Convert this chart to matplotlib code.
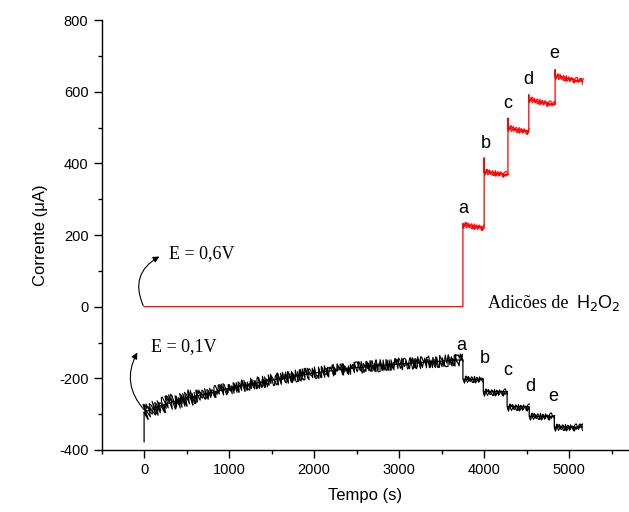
import matplotlib.pyplot as plt
from matplotlib.ticker import MultipleLocator

plt.rcParams['axes.unicode_minus'] = False

# E = 0,6 V trace (red): additions of H2O2 at these times (s)
red_steps = [3750, 4000, 4280, 4525, 4835]
red_end = 5160
red_peak = [232, 415, 526, 591, 661]
red_start = [228, 376, 498, 578, 643]
red_stop = [220, 368, 488, 563, 628]

# E = 0,1 V trace (black)
blk_t = [0, 100, 300, 600, 1000, 1500, 2000, 2500, 3000, 3500, 3750]
blk_v = [-295, -285, -268, -250, -228, -205, -185, -170, -160, -152, -148]
blk_spike = -377
blk_steps = [3750, 3990, 4270, 4530, 4825]
blk_end = 5150
blk_level = [-203, -237, -279, -306, -336]

labels = ['a', 'b', 'c', 'd', 'e']
red_lab_t = [3750, 4020, 4280, 4520, 4830]
red_lab_v = [275, 456, 566, 633, 706]
blk_lab_t = [3730, 4010, 4280, 4540, 4810]
blk_lab_v = [-107, -146, -179, -224, -251]

fig = plt.figure(figsize=(6.29, 5.12), dpi=100)
ax = fig.add_axes([0.1615, 0.1211, 0.838, 0.8398])

# two jitter passes with different wavelengths give a denser noise band
passes = [dict(length=0.6, randomness=6), dict(length=0.9, randomness=5)]


def noisy(x, y, color, scale):
    for p in passes:
        ln, = ax.plot(x, y, color=color, lw=0.8)
        ln.set_sketch_params(scale=scale, **p)


# red: clean step line, noisy plateaus on top
rx = [0, red_steps[0]]
ry = [0, 0]
for i, s in enumerate(red_steps):
    nxt = red_steps[i + 1] if i + 1 < len(red_steps) else red_end
    rx += [s, s, nxt]
    ry += [red_peak[i], red_start[i], red_stop[i]]
ax.plot(rx, ry, color='red', lw=0.9)
for i, s in enumerate(red_steps):
    nxt = red_steps[i + 1] if i + 1 < len(red_steps) else red_end
    noisy([s, nxt], [red_start[i], red_stop[i]], 'red', 3)

# black: initial spike, slow rise, then step down at each addition
bx = [0] + blk_t
by = [blk_spike] + blk_v
for i, s in enumerate(blk_steps):
    nxt = blk_steps[i + 1] if i + 1 < len(blk_steps) else blk_end
    bx += [s, nxt]
    by += [blk_level[i], blk_level[i]]
ax.plot(bx, by, color='black', lw=0.9)
noisy(blk_t[:4], blk_v[:4], 'black', 8)
noisy(blk_t[3:], blk_v[3:], 'black', 6)
for i, s in enumerate(blk_steps):
    nxt = blk_steps[i + 1] if i + 1 < len(blk_steps) else blk_end
    noisy([s, nxt], [blk_level[i], blk_level[i]], 'black', 3.5)

for lab, t, v in zip(labels, red_lab_t, red_lab_v):
    ax.text(t, v, lab, ha='center', va='center', fontsize=13, family='Liberation Sans')
for lab, t, v in zip(labels, blk_lab_t, blk_lab_v):
    ax.text(t, v, lab, ha='center', va='center', fontsize=13, family='Liberation Sans')

arrow = dict(arrowstyle='-|>', color='black', lw=0.8, mutation_scale=9,
             shrinkA=0, shrinkB=0)
ax.annotate('', xy=(180, 140), xytext=(-10, 3),
            arrowprops=dict(connectionstyle='arc3,rad=-0.45', **arrow))
ax.annotate('', xy=(-80, -128), xytext=(5, -289),
            arrowprops=dict(connectionstyle='arc3,rad=-0.35', **arrow))
ax.text(294, 149, 'E = 0,6V', fontsize=13, family='Liberation Serif', va='center')
ax.text(79, -112, 'E = 0,1V', fontsize=13, family='Liberation Serif', va='center')
ax.text(4047, -4, 'Adicões de', fontsize=13, family='Liberation Serif', va='baseline')
ax.text(5075, -4, 'H$_2$O$_2$', fontsize=13, family='Liberation Sans', va='baseline')

ax.set_xlim(-500, 5700)
ax.set_ylim(-400, 800)
ax.xaxis.set_major_locator(MultipleLocator(1000))
ax.xaxis.set_minor_locator(MultipleLocator(500))
ax.yaxis.set_major_locator(MultipleLocator(200))
ax.yaxis.set_minor_locator(MultipleLocator(100))
ax.tick_params(which='major', direction='out', length=6, width=1, labelsize=10.5)
ax.tick_params(which='minor', direction='out', length=3, width=1)
for lab in ax.get_xticklabels() + ax.get_yticklabels():
    lab.set_family('Liberation Sans')
ax.spines['top'].set_visible(False)
ax.spines['right'].set_visible(False)
ax.spines['left'].set_linewidth(1)
ax.spines['bottom'].set_linewidth(1)

ax.set_xlabel('Tempo (s)', fontsize=12, family='Liberation Sans', labelpad=8)
ax.set_ylabel('Corrente (μA)', fontsize=12, family='Liberation Sans', labelpad=8)

fig.savefig('out.png', dpi=100)
